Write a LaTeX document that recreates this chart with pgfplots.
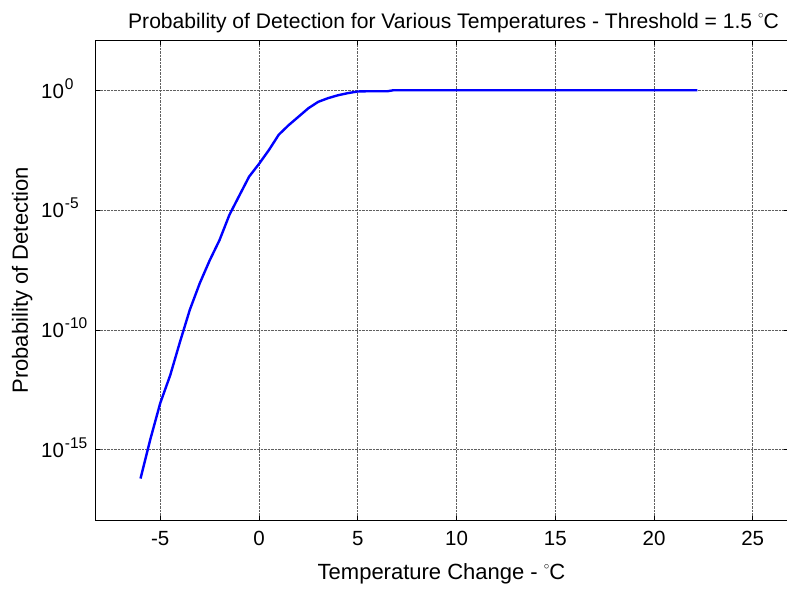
\documentclass[border=0pt]{standalone}
\usepackage{fontspec}
\setmainfont{Liberation Sans}
\usepackage{pgfplots}
\pgfplotsset{compat=1.18}

% Power of ten: the base is aligned, the exponent hangs to its right
\newcommand{\pten}[1]{10\rlap{\hspace{1pt}\raisebox{9pt}{\fontsize{15.5}{15.5}\selectfont #1}}}
\newcommand{\degC}{\ \raisebox{10pt}{\fontsize{11}{11}\selectfont$\circ$}C}

% Probability of detection against temperature change (threshold 1.5 C)
\pgfplotstableread{
T      Pd
-6.0   6.3e-17
-5.5   2.8e-15
-5.0   8.9e-14
-4.5   1.26e-12
-4.0   3.2e-11
-3.5   7.1e-10
-3.0   8.9e-9
-2.5   7.9e-8
-2.0   5.6e-7
-1.5   6.3e-6
-1.0   4.0e-5
-0.5   2.5e-4
 0.0   8.5e-4
 0.5   3.2e-3
 1.0   1.4e-2
 1.5   3.5e-2
 2.0   7.9e-2
 2.5   0.178
 3.0   0.33
 3.5   0.47
 4.0   0.62
 4.5   0.76
 5.0   0.89
 5.5   0.91
 6.0   0.91
 6.5   0.91
 6.8   1.0
 10.0  1.0
 15.0  1.0
 20.0  1.0
 22.2  1.0
}\pddata

\begin{document}
\begin{tikzpicture}
\path[use as bounding box] (0pt,0pt) rectangle (787pt,590pt);
\begin{axis}[
  at={(95.5pt,70pt)}, anchor=south west,
  scale only axis, width=692pt, height=479.3pt,
  xmin=-8.28, xmax=26.76,
  ymode=log, ymin=1.17e-18, ymax=117,
  xtick={-5,0,5,10,15,20,25},
  xticklabels={-5,0,5,10,15,20,25},
  ytick={1e-15,1e-10,1e-5,1},
  yticklabels={\pten{-15},\pten{-10},\pten{-5},\pten{0}},
  minor tick num=0,
  log basis y=10,
  tick align=inside,
  major tick length=4pt,
  tick style={black, line width=0.6pt},
  grid=major,
  major grid style={densely dotted, gray!75!black, line width=0.6pt},
  axis line style={black, line width=0.8pt},
  ticklabel style={font=\fontsize{20.5}{24}\selectfont},
  xticklabel style={yshift=-8pt},
  yticklabel style={xshift=-28pt, yshift=2pt},
  label style={font=\fontsize{22}{26}\selectfont},
  xlabel style={yshift=-11pt},
  ylabel style={at={(axis description cs:-0.106,0.5)}, anchor=center},
  title style={font=\fontsize{21.1}{26}\selectfont, xshift=12pt, yshift=-2pt},
  title={Probability of Detection for Various Temperatures - Threshold = 1.5\degC},
  xlabel={Temperature Change -\degC},
  ylabel={Probability of Detection},
]
\addplot[blue, line width=2.4pt] table[x=T, y=Pd] {\pddata};
\end{axis}
\end{tikzpicture}
\end{document}
